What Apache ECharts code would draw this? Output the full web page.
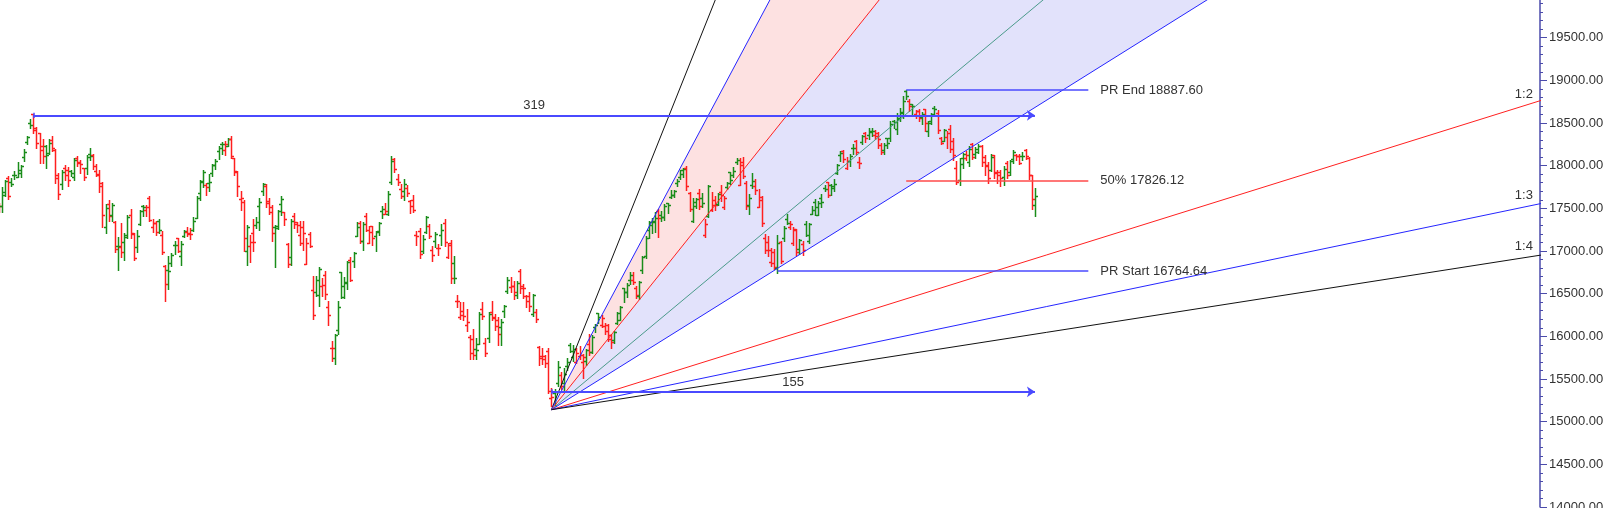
<!DOCTYPE html>
<html>
<head>
<meta charset="utf-8">
<script src="https://cdn.jsdelivr.net/npm/echarts@6/dist/echarts.min.js"></script>
<style>
html,body{margin:0;padding:0;background:#ffffff;}
#c{width:1609px;height:508px;}
</style>
</head>
<body>
<div id="c"></div>
<script>
// ---------------- data ----------------
// daily bars [open, high, low, close], first bar = 1 Oct 2021, last = 30 Jan 2023
const firstPrevClose = 17618;
const ohlc = [
[17531,17557,17452,17532],[17532,17750,17452,17692],[17661,17833,17640,17822],[17861,17884,17613,17646],[17810,17857,17757,17790],
[17886,17941,17840,17895],[17867,18041,17865,17946],[17915,18009,17864,17992],[18097,18197,18051,18162],[18272,18350,18249,18339],
[18500,18543,18445,18477],[18602,18604,18377,18419],[18439,18458,18209,18267],[18382,18384,18033,18178],[18230,18315,18032,18115],
[18229,18241,17968,18125],[18154,18310,18131,18268],[18295,18342,18167,18211],[18187,18190,17799,17857],[17890,17916,17613,17672],
// Nov 2021
[17783,17954,17729,17929],[17970,18012,17832,17889],[17947,17988,17757,17829],[17935,17947,17875,17916],[17867,18087,17836,18068],
[18085,18112,17996,18044],[18031,18062,17915,18017],[17967,17971,17835,17873],[17977,18123,17905,18102],[18141,18210,18071,18109],
[18127,18132,17959,17999],[17939,18022,17879,17898],[17890,17945,17688,17765],[17796,17806,17280,17417],[17281,17553,17216,17503],
[17550,17601,17354,17415],[17417,17564,17354,17536],[17339,17355,16985,17026],[17055,17160,16782,17054],[17052,17324,16931,16983],
// Dec 2021
[17104,17213,16892,17167],[17183,17420,17150,17401],[17424,17490,17156,17197],[17209,17216,16891,16913],[17044,17251,16988,17176],
[17315,17484,17308,17469],[17524,17543,17412,17517],[17476,17534,17406,17511],[17619,17639,17355,17369],[17283,17376,17225,17325],
[17324,17351,17192,17221],[17348,17379,17211,17248],[17183,17237,16966,16985],[16825,16840,16410,16614],[16773,16936,16554,16771],
[16865,16971,16819,16955],[17067,17118,16960,17072],[17149,17155,16984,17004],[16938,17112,16833,17086],[17177,17250,17161,17233],
[17221,17285,17176,17214],[17201,17264,17146,17204],[17244,17400,17238,17354],
// Jan 2022
[17388,17646,17383,17625],[17681,17827,17593,17805],[17820,17945,17749,17925],[17768,17797,17655,17746],[17798,17905,17704,17813],
[17913,18017,17880,18003],[18002,18081,17964,18056],[18170,18228,18081,18212],[18257,18272,18141,18258],[18185,18286,18120,18256],
[18235,18322,18228,18309],[18318,18351,18090,18113],[18084,18086,17885,17938],[17921,17943,17648,17757],[17613,17707,17485,17617],
[17575,17600,16998,17149],[17002,17309,16836,17278],[17063,17182,16866,17110],[17208,17373,16997,17102],[17302,17399,17264,17340],
// Feb 2022
[17529,17622,17244,17577],[17706,17794,17654,17780],[17767,17781,17511,17560],[17591,17617,17431,17516],[17456,17536,17119,17214],
[17280,17306,16810,17266],[17296,17477,17255,17464],[17552,17640,17427,17606],[17454,17455,17303,17375],[17077,17099,16809,16843],
[16933,17376,16839,17352],[17408,17441,17264,17322],[17334,17344,17221,17304],[17183,17351,17070,17276],[17093,17352,17017,17207],
[16848,17148,16844,17092],[17194,17221,17043,17063],[16548,16706,16203,16248],[16515,16705,16478,16658],[16481,16816,16356,16794],
// Mar 2022
[16593,16678,16478,16606],[16723,16768,16442,16498],[16339,16418,16133,16245],[15867,15944,15711,15863],[15747,16028,15671,16013],
[16079,16418,16029,16345],[16757,16758,16447,16594],[16457,16694,16447,16630],[16633,16888,16555,16871],[16900,16927,16649,16663],
[16877,16988,16810,16975],[17180,17345,17175,17287],[17329,17353,17096,17117],[17121,17334,17006,17316],[17406,17442,17237,17246],
[17094,17291,17091,17223],[17289,17295,17076,17153],[17181,17235,17004,17222],[17239,17343,17186,17325],[17468,17523,17387,17498],
[17437,17559,17435,17465],
// Apr 2022
[17436,17703,17422,17670],[17811,18115,17791,18053],[18081,18095,17921,17957],[17842,17901,17779,17807],[17723,17787,17623,17640],
[17698,17842,17600,17784],[17740,17779,17650,17675],[17584,17596,17442,17530],[17599,17652,17457,17476],[17183,17237,17067,17174],
[17234,17275,16920,16959],[17004,17186,16978,17137],[17217,17414,17216,17393],[17294,17317,17150,17172],[17010,17054,16888,16954],
[17121,17224,17045,17200],[17034,17082,16958,17038],[17189,17322,17071,17245],[17329,17378,17053,17103],
// May 2022
[16924,17092,16918,17069],[17097,17132,16624,16678],[16855,16945,16623,16683],[16415,16484,16340,16411],[16227,16404,16198,16302],
[16248,16404,16197,16240],[16127,16318,16065,16167],[15993,16017,15736,15808],[15967,16083,15736,15782],[15846,15977,15738,15842],
[15913,16285,15913,16259],[16318,16399,16201,16241],[15917,15984,15775,15809],[15986,16284,15937,16266],[16290,16415,16186,16215],
[16225,16262,16078,16126],[16196,16223,15904,16026],[16105,16205,15903,16171],[16296,16370,16221,16353],[16528,16695,16506,16661],
[16578,16691,16520,16585],
// Jun 2022
[16594,16647,16439,16523],[16481,16646,16444,16628],[16761,16794,16507,16584],[16570,16610,16444,16570],[16469,16487,16347,16416],
[16474,16514,16293,16357],[16263,16492,16244,16479],[16284,16324,16172,16202],[15877,15886,15659,15774],[15750,15858,15678,15732],
[15764,15783,15644,15692],[15832,15863,15335,15361],[15273,15400,15183,15294],[15334,15382,15191,15350],[15455,15708,15419,15638],
[15545,15577,15385,15413],[15451,15628,15367,15557],[15657,15749,15606,15699],[15900,15927,15815,15832],[15757,15893,15710,15850],
[15701,15861,15687,15799],[15775,15890,15729,15780],
// Jul 2022
[15703,15793,15511,15752],[15710,15852,15662,15835],[15909,16025,15785,15811],[15818,16011,15800,15990],[16113,16150,16045,16133],
[16273,16275,16157,16221],[16137,16249,16115,16216],[16126,16158,16031,16058],[16130,16140,15951,15967],[16018,16033,15859,15939],
[15954,16067,15927,16049],[16151,16287,16142,16279],[16187,16359,16187,16341],[16562,16562,16404,16521],[16523,16626,16457,16606],
[16661,16752,16610,16719],[16663,16753,16611,16632],[16568,16591,16452,16484],[16476,16653,16438,16642],[16774,16947,16747,16930],
[16944,17172,16919,17158],
// Aug 2022
[17244,17356,17155,17340],[17310,17391,17215,17345],[17349,17454,17226,17388],[17463,17490,17161,17382],[17423,17474,17348,17398],
[17401,17548,17359,17525],[17566,17566,17442,17535],[17636,17720,17623,17659],[17659,17719,17631,17698],[17797,17840,17765,17825],
[17868,17955,17847,17944],[17898,17969,17873,17956],[17967,17993,17710,17758],[17682,17690,17467,17491],[17357,17625,17345,17578],
[17525,17626,17499,17605],[17679,17727,17487,17523],[17619,17685,17519,17559],[17188,17380,17167,17313],[17414,17777,17401,17760],
// Sep 2022
[17485,17695,17468,17543],[17599,17644,17476,17539],[17546,17683,17541,17666],[17696,17778,17591,17656],[17519,17650,17488,17624],
[17748,17807,17725,17798],[17923,17925,17786,17833],[17890,17981,17862,17936],[18044,18088,18015,18070],[17771,18091,17771,18004],
[18046,18096,17861,17877],[17797,17820,17497,17531],[17540,17667,17429,17622],[17770,17919,17744,17816],[17766,17838,17663,17718],
[17514,17722,17514,17630],[17593,17643,17291,17327],[17157,17196,16979,17016],[17111,17176,16943,17007],[16870,17037,16820,16858],
[16993,17026,16789,16818],[16798,17188,16748,17094],
// Oct 2022
[17102,17115,16856,16887],[17148,17288,17117,17274],[17379,17428,17315,17331],[17287,17348,17252,17315],[17095,17281,17065,17241],
[17257,17262,16950,16984],[17026,17143,16961,17124],[17087,17112,16956,17014],[17322,17348,17170,17186],[17122,17328,17098,17312],
[17438,17527,17434,17486],[17569,17607,17422,17512],[17423,17584,17421,17564],[17622,17670,17520,17576],[17736,17778,17701,17731],
[17808,17812,17637,17656],[17771,17783,17654,17737],[17756,17838,17698,17787],[17910,18023,17899,18012],
// Nov 2022
[18130,18176,18060,18145],[18177,18178,18048,18083],[17968,18106,17959,18053],[18054,18135,17992,18117],[18211,18255,18136,18203],
[18288,18297,18137,18157],[18044,18104,17970,18028],[18272,18363,18259,18350],[18377,18400,18282,18329],[18363,18443,18318,18403],
[18398,18442,18344,18410],[18358,18417,18315,18344],[18382,18394,18209,18308],[18247,18262,18133,18160],[18179,18261,18137,18244],
[18326,18327,18208,18267],[18326,18529,18294,18484],[18528,18534,18445,18512],[18430,18614,18366,18562],[18552,18678,18522,18618],
[18625,18816,18563,18758],
// Dec 2022
[18871,18888,18778,18813],[18753,18782,18640,18697],[18719,18728,18591,18701],[18600,18654,18563,18643],[18638,18668,18528,18561],
[18570,18625,18487,18609],[18662,18664,18410,18497],[18402,18518,18346,18497],[18524,18617,18490,18608],[18671,18697,18604,18660],
[18615,18652,18387,18415],[18320,18333,18255,18269],[18288,18431,18288,18420],[18340,18404,18202,18385],[18435,18473,18163,18199],
[18288,18319,18068,18127],[17977,18050,17780,17806],[17831,18084,17774,18015],[18089,18149,17968,18132],[18084,18174,18069,18123],
[18046,18230,17993,18191],[18259,18266,18080,18105],
// Jan 2023
[18131,18216,18087,18197],[18164,18252,18149,18233],[18231,18244,17998,18043],[18101,18121,17893,17992],[18008,18047,17795,17859],
[17953,18141,17936,18101],[18121,18127,17856,17914],[17925,17944,17800,17896],[17921,17945,17761,17858],[17868,17999,17774,17957],
[18033,18049,17853,17895],[17922,18072,17887,18053],[18074,18183,18032,18165],[18120,18140,18064,18108],[18115,18131,18017,18027],
[18118,18163,18063,18119],[18183,18201,18078,18118],[18093,18100,17847,17892],[17891,17891,17494,17604],[17541,17735,17405,17649]
];

// price axis
const yMin = 14000, yMax = 20000, yStep = 500;
// bar-count arrows
const countFromBars = [11, 176];
const countToBar = 330;
const countLevels = [18590, 15350];
const countLabels = ['319', '155'];
// price range lines
const prBars = [289, 289, 248];
const prLineEndBar = 347;
const prValues = [18887.60, 17826.12, 16764.64];
const prNames = ['PR End', '50%', 'PR Start'];
// Gann fan
const fanOriginBar = 176;
const fanOriginValue = 15140;
const fanUnit = 23;
const fanRatios = [4, 3, 2, 4/3, 1, 1/2, 1/3, 1/4];
const fanLabels = ['', '', '', '', '', '1:2', '1:3', '1:4'];
const fanBands = [[3, 2], [2, 1]];

// ---------------- styles ----------------
const FONT = 'Liberation Sans, Arial, sans-serif';
const UP = '#1a8c1a', DOWN = '#ff1f1f';
const fanColors = ['#111111', '#2525ff', '#ff2020', '#4a9a8a', '#2525ff', '#ff2020', '#2525ff', '#111111'];
const bandColors = ['#fde1e1', '#e2e2fb'];
const X_MIN = 0.4, X_MAX = 490.85;

const barData = ohlc.map((r, i) => {
  const prev = i === 0 ? firstPrevClose : ohlc[i - 1][3];
  return [i, r[0], r[1], r[2], r[3], r[3] >= prev ? 1 : 0];
});

function fanAt(ratio, bar) { return fanOriginValue + ratio * fanUnit * (bar - fanOriginBar); }
function fanBarAt(ratio, v) { return fanOriginBar + (v - fanOriginValue) / (ratio * fanUnit); }

const series = [];

// fan bands
series.push({
  type: 'custom', silent: true, animation: false, z: 1,
  data: fanBands.map((b, i) => [i]),
  renderItem: function (params, api) {
    const b = fanBands[params.dataIndex];
    const top = yMax + 1500;
    const p0 = api.coord([fanOriginBar, fanOriginValue]);
    const p1 = api.coord([fanBarAt(b[0], top), top]);
    const p2 = api.coord([fanBarAt(b[1], top), top]);
    return { type: 'polygon', shape: { points: [p0, p1, p2] }, style: { fill: bandColors[params.dataIndex] } };
  }
});

// OHLC bars
series.push({
  type: 'custom', silent: true, animation: false, z: 3,
  data: barData,
  renderItem: function (params, api) {
    const i = api.value(0);
    const pH = api.coord([i, api.value(2)]);
    const pL = api.coord([i, api.value(3)]);
    const pO = api.coord([i, api.value(1)]);
    const pC = api.coord([i, api.value(4)]);
    const col = api.value(5) ? UP : DOWN;
    const x = Math.round(pH[0]) + 0.5;
    const yo = Math.round(pO[1]) + 0.5, yc = Math.round(pC[1]) + 0.5;
    const st = { stroke: col, lineWidth: 1.5 };
    return {
      type: 'group', children: [
        { type: 'line', shape: { x1: x, y1: Math.round(pH[1]), x2: x, y2: Math.round(pL[1]) + 1 }, style: st },
        { type: 'line', shape: { x1: x - 2.5, y1: yo, x2: x, y2: yo }, style: st },
        { type: 'line', shape: { x1: x, y1: yc, x2: x + 2.5, y2: yc }, style: st }
      ]
    };
  }
});

// fan lines
fanRatios.forEach((r, k) => {
  const s = {
    type: 'line', silent: true, animation: false, z: 4, clip: true, symbol: 'none',
    lineStyle: { color: fanColors[k], width: 1 },
    data: [[fanOriginBar, fanOriginValue], [X_MAX + 5, fanAt(r, X_MAX + 5)]]
  };
  if (fanLabels[k]) {
    const lb = 485.7;
    s.markPoint = {
      silent: true, animation: false,
      symbol: 'circle', symbolSize: 0,
      data: [{ coord: [lb, fanAt(r, lb)] }],
      label: { show: true, formatter: fanLabels[k], position: 'top', distance: 5, color: '#333', fontSize: 13, fontFamily: FONT }
    };
  }
  series.push(s);
});

function annot(from, to, value, color, width, text, pos, dist, arrow) {
  return {
    type: 'line', silent: true, animation: false, z: 6, symbol: 'none',
    lineStyle: { width: 0 }, data: [[from, value]],
    markLine: {
      silent: true, animation: false, precision: 2,
      symbol: arrow ? ['none', 'arrow'] : ['none', 'none'],
      symbolSize: 8,
      lineStyle: { color: color, width: width, type: 'solid' },
      label: { show: !!text, formatter: text, position: pos, distance: dist, color: '#333', fontSize: 13, fontFamily: FONT },
      emphasis: { disabled: true },
      data: [[{ coord: [from, value] }, { coord: [to, value] }]]
    }
  };
}

countFromBars.forEach((b, k) => {
  series.push(annot(b, countToBar, countLevels[k], '#4a4aff', 2, countLabels[k], 'insideMiddleTop', 3, true));
  const tick = annot(b, b, 0, '#4a4aff', 1.5, '', 'end', 0, false);
  tick.markLine.data = [[{ coord: [b, countLevels[k] - 30] }, { coord: [b, countLevels[k] + 30] }]];
  series.push(tick);
});

prValues.forEach((v, k) => {
  const col = k === 1 ? '#ff4a4a' : '#4a4aff';
  series.push(annot(prBars[k], prLineEndBar, v, col, 1.6, prNames[k] + ' ' + v.toFixed(2), 'end', 12, false));
});

const chart = echarts.init(document.getElementById('c'), null, { renderer: 'canvas' });
chart.setOption({
  animation: false,
  backgroundColor: '#ffffff',
  grid: { left: 0, right: 69, top: -5, bottom: 1, containLabel: false, outerBoundsMode: 'none' },
  xAxis: { type: 'value', min: X_MIN, max: X_MAX, show: false },
  yAxis: {
    type: 'value', position: 'right', min: yMin, max: yMax, interval: yStep,
    axisLine: { show: true, lineStyle: { color: '#4b4bab', width: 1.5 } },
    axisTick: { show: true, length: 7, lineStyle: { color: '#4b4bab', width: 1 } },
    minorTick: { show: true, splitNumber: 5, length: 3, lineStyle: { color: '#4b4bab', width: 1 } },
    splitLine: { show: false },
    minorSplitLine: { show: false },
    axisLabel: { formatter: v => v.toFixed(2), color: '#333333', fontSize: 13, fontFamily: FONT, margin: 9 }
  },
  series: series
});
</script>
</body>
</html>
